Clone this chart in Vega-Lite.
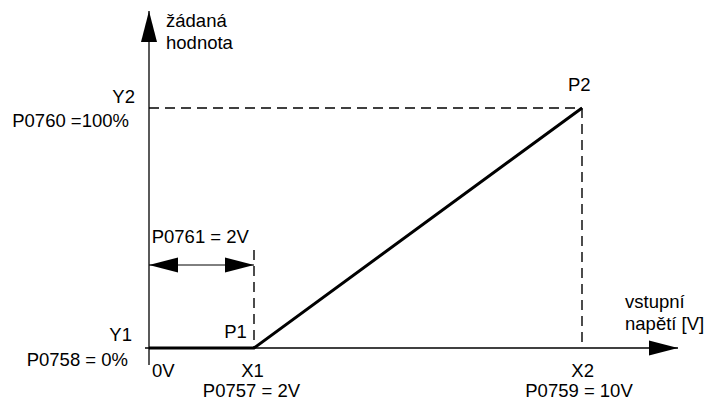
{
  "$schema": "https://vega.github.io/schema/vega-lite/v6.json",
  "width": 718,
  "height": 401,
  "autosize": "none",
  "padding": 0,
  "background": "white",
  "config": {
    "view": {"stroke": null},
    "text": {"font": "Liberation Sans, Arial, sans-serif", "fontSize": 18.5, "color": "black", "baseline": "alphabetic", "lineHeight": 22}
  },
  "datasets": {
    "curve": [{"x": 0, "y": 0}, {"x": 2, "y": 0}, {"x": 10, "y": 100}],
    "axes": [{"x": 0, "y": -7.08, "x2": 0, "y2": 140.42}, {"x": -0.076, "y": 0, "x2": 12.341, "y2": 0}],
    "span": [{"x": 0, "y": 34.58, "x2": 2, "y2": 34.58}],
    "guides": [{"x": 0, "y": 100, "x2": 10, "y2": 100}, {"x": 2, "y": 40.83, "x2": 2, "y2": 0}, {"x": 10, "y": 100, "x2": 10, "y2": 0}],
    "yArrow": [{"x": 0, "y": 140.42}],
    "xArrow": [{"x": 12.341, "y": 0}],
    "spanLeft": [{"x": 0, "y": 34.58}],
    "spanRight": [{"x": 2, "y": 34.58}],
    "rightLabels": [
      {"x": -0.267, "y": 102.08, "text": "Y2"},
      {"x": -0.381, "y": 92.2, "text": "P0760 =100%"},
      {"x": -0.324, "y": 2.92, "text": "Y1"},
      {"x": -0.4, "y": -7.36, "text": "P0758 = 0%"}
    ],
    "centerLabels": [
      {"x": 1.971, "y": -11.94, "text": "X1"},
      {"x": 1.952, "y": -20.5, "text": "P0757 = 2V"},
      {"x": 1.648, "y": 4.03, "text": "P1"},
      {"x": 9.934, "y": 107.2, "text": "P2"},
      {"x": 10.016, "y": -12.0, "text": "X2"},
      {"x": 9.927, "y": -20.5, "text": "P0759 = 10V"}
    ],
    "leftLabels": [
      {"x": 0.324, "y": 133.75, "text": "žádaná\nhodnota"},
      {"x": 0.057, "y": -11.94, "text": "0V"},
      {"x": 0.051, "y": 43.6, "text": "P0761 = 2V"},
      {"x": 11.049, "y": 16.5, "text": "vstupní\nnapětí [V]"}
    ]
  },
  "encoding": {
    "x": {"field": "x", "type": "quantitative", "axis": null, "scale": {"domain": [-2.838, 0, 2, 10, 13.317], "range": [0, 149, 254, 582, 718], "nice": false, "zero": false}},
    "y": {"field": "y", "type": "quantitative", "axis": null, "scale": {"domain": [-22.083, 145], "nice": false, "zero": false}}
  },
  "layer": [
    {"data": {"name": "guides"}, "mark": {"type": "rule", "color": "black", "strokeWidth": 1.4, "strokeDash": [10, 6]}, "encoding": {"x2": {"field": "x2"}, "y2": {"field": "y2"}}},
    {"data": {"name": "axes"}, "mark": {"type": "rule", "color": "black", "strokeWidth": 1.3}, "encoding": {"x2": {"field": "x2"}, "y2": {"field": "y2"}}},
    {"data": {"name": "span"}, "mark": {"type": "rule", "color": "black", "strokeWidth": 1}, "encoding": {"x2": {"field": "x2"}, "y2": {"field": "y2"}}},
    {"data": {"name": "curve"}, "mark": {"type": "line", "color": "black", "strokeWidth": 3}, "encoding": {}},
    {"data": {"name": "yArrow"}, "mark": {"type": "point", "filled": true, "color": "black", "opacity": 1, "size": 961, "shape": "M0,0L0.516,2L-0.516,2Z"}},
    {"data": {"name": "xArrow"}, "mark": {"type": "point", "filled": true, "color": "black", "opacity": 1, "size": 841, "shape": "M0,0L-2,-0.517L-2,0.517Z"}},
    {"data": {"name": "spanLeft"}, "mark": {"type": "point", "filled": true, "color": "black", "opacity": 1, "size": 841, "shape": "M0,0L2,-0.517L2,0.517Z"}},
    {"data": {"name": "spanRight"}, "mark": {"type": "point", "filled": true, "color": "black", "opacity": 1, "size": 841, "shape": "M0,0L-2,-0.517L-2,0.517Z"}},
    {"data": {"name": "rightLabels"}, "mark": {"type": "text", "align": "right"}, "encoding": {"text": {"field": "text"}}},
    {"data": {"name": "centerLabels"}, "mark": {"type": "text", "align": "center"}, "encoding": {"text": {"field": "text"}}},
    {"data": {"name": "leftLabels"}, "mark": {"type": "text", "align": "left", "lineBreak": "\n"}, "encoding": {"text": {"field": "text"}}}
  ]
}
